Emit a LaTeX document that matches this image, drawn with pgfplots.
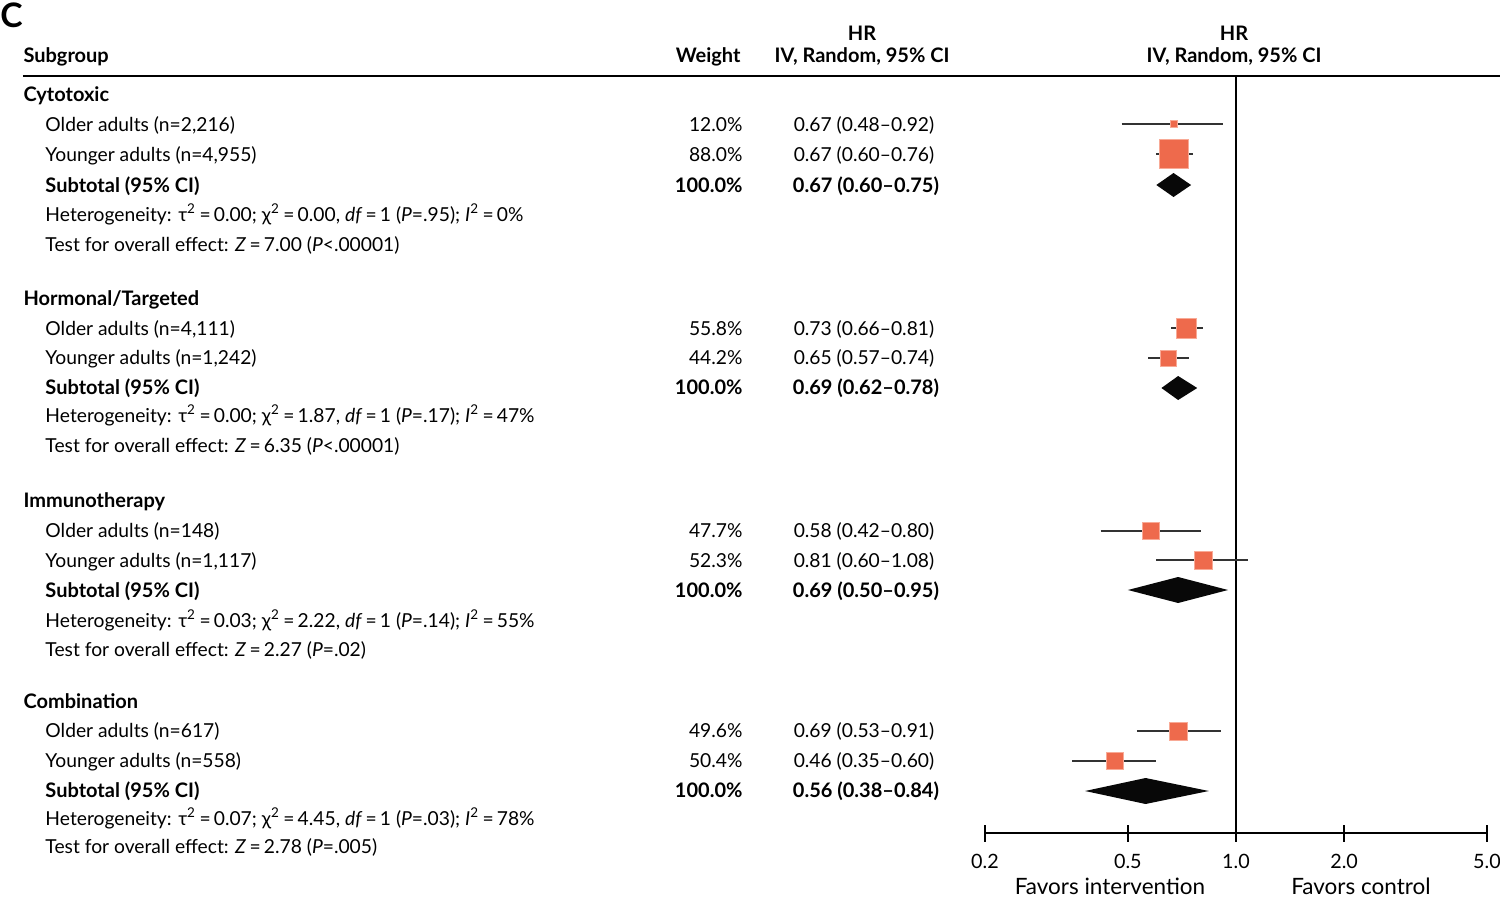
\documentclass[border=0pt]{standalone}
\usepackage{pgfplots}
\pgfplotsset{compat=1.18}
\usepackage{pgfplotstable}
\usepackage{fontspec}
\setmainfont{Lato}
\definecolor{sq}{RGB}{238,106,76}
\definecolor{sqedge}{RGB}{248,170,150}
\newcommand\bt{\fontsize{7.7}{9}\selectfont}
\newcommand\hd{\fontsize{8.0}{9}\selectfont\bfseries}

% studies: HR, lower, upper, row position (px, negative = downwards), half side of square (pt)
\pgfplotstableread{
hr   lo   hi   y     s
0.67 0.48 0.92 -124  1.4
0.67 0.60 0.76 -154  5.8
0.73 0.66 0.81 -328  4.0
0.65 0.57 0.74 -358  3.2
0.58 0.42 0.80 -531  3.3
0.81 0.60 1.08 -560  3.6
0.69 0.53 0.91 -731  3.6
0.46 0.35 0.60 -761  3.5
}\studies

\begin{document}
\begin{tikzpicture}
\useasboundingbox (0,0) rectangle (600pt,-359.6pt);
\begin{axis}[
  at={(985*0.4pt,-833*0.4pt)}, anchor=south west,
  scale only axis, width=200.8pt, height=303.2pt,
  xmode=log, xmin=0.2, xmax=5, ymin=-833, ymax=-75,
  axis x line*=bottom, axis y line=none,
  axis line style={black, line width=0.8pt},
  xtick={0.2,0.5,1,2,5}, xticklabels={0.2,0.5,1.0,2.0,5.0},
  minor xtick={},
  tick align=center, major tick length=6.8pt,
  xtick style={black, line width=0.8pt},
  xticklabel style={font=\fontsize{7.9}{9}\selectfont, anchor=base, yshift=-10.8pt},
  /pgf/number format/assume math mode=true,
  clip=false,
]
% line of no effect
\addplot[black, line width=0.8pt] coordinates {(1,-75) (1,-833)};
% confidence intervals
\addplot[black!80, line width=0.8pt, unbounded coords=jump] coordinates {
(0.48,-124) (0.92,-124) (nan,nan)
(0.60,-154) (0.76,-154) (nan,nan)
(0.66,-328) (0.81,-328) (nan,nan)
(0.57,-358) (0.74,-358) (nan,nan)
(0.42,-531) (0.80,-531) (nan,nan)
(0.60,-560) (1.08,-560) (nan,nan)
(0.53,-731) (0.91,-731) (nan,nan)
(0.35,-761) (0.60,-761)
};
% squares
\addplot[scatter, only marks, mark=square*, point meta=\thisrow{s},
  scatter/use mapped color={draw=sqedge, fill=sq},
  visualization depends on={\thisrow{s}\as\msz},
  scatter/@pre marker code/.append style={/tikz/mark size=\msz},
  mark options={line width=0.4pt}]
  table[x=hr, y=y] {\studies};
% subtotal diamonds
\addplot[fill=black!97, draw=none] coordinates {(0.60,-185) (0.67,-173) (0.75,-185) (0.67,-197)} --cycle;
\addplot[fill=black!97, draw=none] coordinates {(0.62,-388) (0.69,-376) (0.78,-388) (0.69,-400)} --cycle;
\addplot[fill=black!97, draw=none] coordinates {(0.50,-590) (0.69,-577) (0.95,-590) (0.69,-603)} --cycle;
\addplot[fill=black!97, draw=none] coordinates {(0.38,-791) (0.56,-778) (0.84,-791) (0.56,-804)} --cycle;
\end{axis}

\begin{scope}[x=0.4pt, y=-0.4pt, every node/.style={inner sep=0pt, font=\bt}]
\node[anchor=base west, font=\fontsize{13.5}{15}\selectfont\bfseries] at (0,27) {C};
% header
\node[anchor=base, font=\hd] at (862,40) {HR};
\node[anchor=base, font=\hd] at (1234,40) {HR};
\node[anchor=base west, font=\hd] at (23,62) {Subgroup};
\node[anchor=base east, font=\hd] at (741,62) {Weight};
\node[anchor=base, font=\hd] at (862,62) {IV, Random, 95\% CI};
\node[anchor=base, font=\hd] at (1234,62) {IV, Random, 95\% CI};
\draw[black, line width=0.8pt] (23,76) -- (1500,76);

% Cytotoxic
\node[anchor=base west, font=\hd] at (23,101) {Cytotoxic};
\node[anchor=base west] at (45,131) {Older adults (n=2,216)};
\node[anchor=base east] at (743,131) {12.0\%};
\node[anchor=base] at (864,131) {0.67 (0.48–0.92)};
\node[anchor=base west] at (45,161) {Younger adults (n=4,955)};
\node[anchor=base east] at (743,161) {88.0\%};
\node[anchor=base] at (864,161) {0.67 (0.60–0.76)};
\node[anchor=base west, font=\hd] at (45,192) {Subtotal (95\% CI)};
\node[anchor=base east, font=\hd] at (743,192) {100.0\%};
\node[anchor=base, font=\hd] at (866,192) {0.67 (0.60–0.75)};
\node[anchor=base west] at (45,221) {Heterogeneity: τ\textsuperscript{2}\,=\,0.00; χ\textsuperscript{2}\,=\,0.00, \textit{df}\,=\,1 (\textit{P}=.95); \textit{I}\textsuperscript{2}\,=\,0\%};
\node[anchor=base west] at (45,251) {Test for overall effect: \textit{Z}\,=\,7.00 (\textit{P}<.00001)};

% Hormonal/Targeted
\node[anchor=base west, font=\hd] at (23,305) {Hormonal/Targeted};
\node[anchor=base west] at (45,335) {Older adults (n=4,111)};
\node[anchor=base east] at (743,335) {55.8\%};
\node[anchor=base] at (864,335) {0.73 (0.66–0.81)};
\node[anchor=base west] at (45,364) {Younger adults (n=1,242)};
\node[anchor=base east] at (743,364) {44.2\%};
\node[anchor=base] at (864,364) {0.65 (0.57–0.74)};
\node[anchor=base west, font=\hd] at (45,394) {Subtotal (95\% CI)};
\node[anchor=base east, font=\hd] at (743,394) {100.0\%};
\node[anchor=base, font=\hd] at (866,394) {0.69 (0.62–0.78)};
\node[anchor=base west] at (45,422) {Heterogeneity: τ\textsuperscript{2}\,=\,0.00; χ\textsuperscript{2}\,=\,1.87, \textit{df}\,=\,1 (\textit{P}=.17); \textit{I}\textsuperscript{2}\,=\,47\%};
\node[anchor=base west] at (45,452) {Test for overall effect: \textit{Z}\,=\,6.35 (\textit{P}<.00001)};

% Immunotherapy
\node[anchor=base west, font=\hd] at (23,507) {Immunotherapy};
\node[anchor=base west] at (45,537) {Older adults (n=148)};
\node[anchor=base east] at (743,537) {47.7\%};
\node[anchor=base] at (864,537) {0.58 (0.42–0.80)};
\node[anchor=base west] at (45,567) {Younger adults (n=1,117)};
\node[anchor=base east] at (743,567) {52.3\%};
\node[anchor=base] at (864,567) {0.81 (0.60–1.08)};
\node[anchor=base west, font=\hd] at (45,597) {Subtotal (95\% CI)};
\node[anchor=base east, font=\hd] at (743,597) {100.0\%};
\node[anchor=base, font=\hd] at (866,597) {0.69 (0.50–0.95)};
\node[anchor=base west] at (45,627) {Heterogeneity: τ\textsuperscript{2}\,=\,0.03; χ\textsuperscript{2}\,=\,2.22, \textit{df}\,=\,1 (\textit{P}=.14); \textit{I}\textsuperscript{2}\,=\,55\%};
\node[anchor=base west] at (45,656) {Test for overall effect: \textit{Z}\,=\,2.27 (\textit{P}=.02)};

% Combination
\node[anchor=base west, font=\hd] at (23,708) {Combination};
\node[anchor=base west] at (45,737) {Older adults (n=617)};
\node[anchor=base east] at (743,737) {49.6\%};
\node[anchor=base] at (864,737) {0.69 (0.53–0.91)};
\node[anchor=base west] at (45,767) {Younger adults (n=558)};
\node[anchor=base east] at (743,767) {50.4\%};
\node[anchor=base] at (864,767) {0.46 (0.35–0.60)};
\node[anchor=base west, font=\hd] at (45,797) {Subtotal (95\% CI)};
\node[anchor=base east, font=\hd] at (743,797) {100.0\%};
\node[anchor=base, font=\hd] at (866,797) {0.56 (0.38–0.84)};
\node[anchor=base west] at (45,825) {Heterogeneity: τ\textsuperscript{2}\,=\,0.07; χ\textsuperscript{2}\,=\,4.45, \textit{df}\,=\,1 (\textit{P}=.03); \textit{I}\textsuperscript{2}\,=\,78\%};
\node[anchor=base west] at (45,853) {Test for overall effect: \textit{Z}\,=\,2.78 (\textit{P}=.005)};

% favours labels
\node[anchor=base] at (1110,894) {\fontsize{9.0}{10}\selectfont Favors intervention};
\node[anchor=base] at (1361,894) {\fontsize{9.0}{10}\selectfont Favors control};
\end{scope}
\end{tikzpicture}
\end{document}
